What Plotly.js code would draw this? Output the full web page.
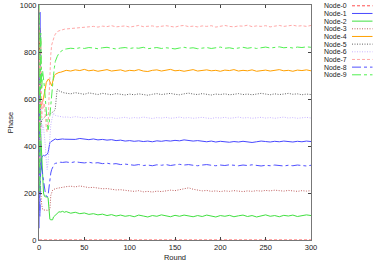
<!DOCTYPE html>
<html>
<head>
<meta charset="utf-8">
<script src="https://cdn.plot.ly/plotly-3.0.1.min.js"></script>
<style>html,body{margin:0;padding:0;background:#fff;}#chart{width:374px;height:262px;}</style>
</head>
<body>
<div id="chart"></div>
<script>
// ---- data ----
var rounds = [0,1,2,3,4,5,6,7,8,9,10,11,12,13,14,15,16,17,18,20,22,24,26,28,
  30,35,40,45,50,55,60,65,70,75,80,85,90,95,100,105,110,115,120,125,130,135,140,145,
  150,155,160,165,170,175,180,185,190,195,200,205,210,215,220,225,230,235,240,245,
  250,255,260,265,270,275,280,285,290,295,300];

var node0 = [0,0,0,0,0,0,0,0,0,0,0,0,0,0,0,0,0,0,0,0,0,0,0,0,
  0,0,0,0,0,0,0,0,0,0,0,0,0,0,0,0,0,0,0,0,0,0,0,0,
  0,0,0,0,0,0,0,0,0,0,0,0,0,0,0,0,0,0,0,0,
  0,0,0,0,0,0,0,0,0,0,0];

var node1 = [50,970,300,350,358,360,358,360,362,365,372,400,414,418,420,424,426,428,430,427,429,428,430,429,
  429,431,428,432,429,427,430,426,428,425,427,423,425,421,423,420,422,419,421,418,422,420,423,421,
  424,422,426,424,421,423,420,418,421,417,420,418,416,419,417,420,418,415,418,421,
  419,417,420,418,421,419,417,420,418,421,419];

var node2 = [1000,470,440,380,280,200,186,184,185,183,180,120,88,86,85,86,98,102,108,115,120,119,122,118,
  121,114,118,112,115,109,112,107,110,104,108,102,106,101,104,99,106,102,98,104,101,107,103,99,
  105,101,106,102,99,104,100,106,102,98,104,101,105,99,103,106,100,104,98,103,
  107,101,104,99,105,102,106,100,103,107,104];

var node3 = [400,250,200,150,130,128,127,129,128,127,126,128,130,190,208,212,215,218,218,220,222,224,225,226,
  227,229,226,230,225,223,224,220,218,219,215,213,214,210,209,207,210,205,207,204,208,206,209,212,
  210,214,218,222,216,212,209,211,207,209,206,209,207,210,208,206,209,207,210,208,
  211,209,212,210,208,211,209,207,210,208,210];

var node4 = [890,580,570,578,590,605,620,645,670,680,684,683,675,660,656,672,690,700,705,711,713,714,717,720,
  722,719,724,721,726,720,723,718,722,725,719,721,724,718,722,720,725,719,717,722,724,719,721,726,
  720,722,718,723,725,719,721,724,720,722,718,723,721,725,719,722,720,724,718,721,
  723,719,722,725,720,722,718,723,721,724,720];

var node5 = [300,900,480,510,515,520,525,528,530,532,535,537,535,538,540,542,545,550,560,642,635,630,628,626,
  625,622,627,624,620,626,623,619,624,621,618,623,620,617,621,618,622,619,616,620,623,619,621,624,
  620,618,622,625,621,619,623,620,617,621,619,622,618,620,623,619,621,618,620,624,
  621,618,622,619,621,624,620,622,618,621,619];

var node6 = [100,800,420,470,490,480,450,400,340,300,330,400,460,490,510,530,540,535,530,528,526,524,522,522,
  524,521,525,522,519,523,520,518,522,519,521,517,520,522,518,521,519,523,520,517,521,519,522,518,
  520,523,519,521,518,520,522,519,517,521,519,522,518,520,523,519,521,518,520,522,
  519,521,518,520,523,519,521,518,520,522,519];

var node7 = [980,300,850,520,600,560,580,520,480,460,470,600,730,790,830,845,860,868,876,886,890,893,895,897,
  898,900,903,905,904,907,909,906,910,908,912,907,909,911,906,910,913,908,909,911,907,910,912,909,
  906,911,913,908,910,907,911,909,912,906,910,913,909,907,911,910,914,908,911,909,
  912,907,910,913,909,911,914,910,912,909,913];

var node8 = [700,100,330,300,280,260,230,200,188,184,190,230,268,285,300,310,318,324,326,328,330,331,330,332,
  332,329,333,330,328,331,327,329,325,327,323,325,321,323,320,318,321,317,319,316,320,318,321,317,
  320,322,319,321,318,316,319,321,318,316,319,317,320,318,316,319,317,320,318,315,
  318,316,319,317,315,318,316,319,317,315,318];

var node9 = [960,200,880,640,720,690,650,600,540,500,470,490,530,580,620,660,700,735,760,780,795,802,808,812,
  813,816,814,818,815,819,817,814,818,820,816,813,817,819,815,818,816,820,814,817,819,815,818,816,
  813,817,820,816,818,814,817,819,815,818,821,816,818,814,817,820,816,819,815,818,
  821,817,819,822,818,820,817,821,819,822,820];

var names = ['Node-0','Node-1','Node-2','Node-3','Node-4','Node-5','Node-6','Node-7','Node-8','Node-9'];
var series = [node0,node1,node2,node3,node4,node5,node6,node7,node8,node9];
var xTicks = [0,50,100,150,200,250,300];
var yTicks = [0,200,400,600,800,1000];

// ---- styles ----
var colors = ['#ff5050','#4848ff','#40e040','#c06060','#ffa000','#606060','#c8b4ff','#ffa8a8','#5050ff','#50f050'];
var dashes = ['3px,2px','solid','solid','1px,1.5px','solid','1px,1.5px','1px,1.5px','3px,2px','dashdot','dashdot'];

var traces = series.map(function(v,i){
  return {x: rounds, y: v, type:'scatter', mode:'lines', name: names[i],
    line:{color: colors[i], dash: dashes[i], width: 1}, showlegend:false};
});

// manual gnuplot-style key (text then sample)
var annotations = [], shapes = [];
var plotL = 39, plotR = 311, plotT = 4.5, plotB = 240.5;
var pw = plotR - plotL, ph = plotB - plotT;
names.forEach(function(n,i){
  var py = 5.3 + i*7.7;
  var yp = (plotB - py)/ph;
  annotations.push({xref:'paper', yref:'paper', x:(347.5-plotL)/pw, y:yp, xanchor:'right', yanchor:'middle',
    text:n, showarrow:false, borderpad:0,
    font:{family:'Liberation Sans, Arial, sans-serif', size:6.9, color:'#222'}});
  shapes.push({type:'line', xref:'paper', yref:'paper', x0:(352-plotL)/pw, x1:(372.5-plotL)/pw, y0:yp, y1:yp,
    line:{color:colors[i], dash:dashes[i], width:1}});
});

var axisFont = {family:'Liberation Sans, Arial, sans-serif', size:7.5, color:'#222'};
var layout = {
  width:374, height:262,
  margin:{l:plotL, r:374-plotR, t:plotT, b:262-plotB},
  paper_bgcolor:'#fff', plot_bgcolor:'#fff',
  showlegend:false,
  xaxis:{range:[0,300], tickvals:xTicks, ticktext:xTicks.map(String), ticks:'inside', ticklen:3,
    showline:true, linecolor:'#777', linewidth:1, mirror:'allticks', showgrid:false, zeroline:false,
    tickfont:axisFont, title:{text:'Round', font:axisFont, standoff:3}},
  yaxis:{range:[0,1000], tickvals:yTicks, ticktext:yTicks.map(String), ticks:'inside', ticklen:3,
    showline:true, linecolor:'#777', linewidth:1, mirror:'allticks', showgrid:false, zeroline:false,
    tickfont:axisFont, title:{text:'Phase', font:axisFont, standoff:5}},
  annotations:annotations, shapes:shapes
};
Plotly.newPlot('chart', traces, layout, {staticPlot:true, displayModeBar:false});
</script>
</body>
</html>
